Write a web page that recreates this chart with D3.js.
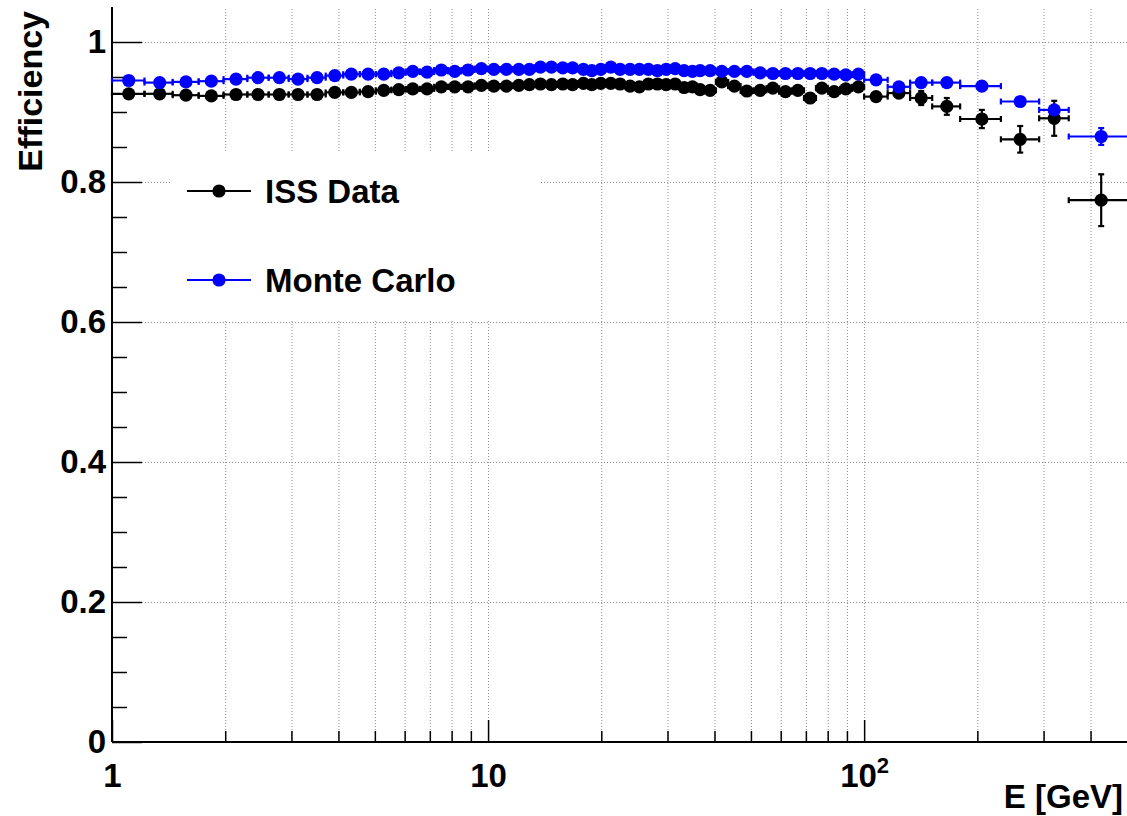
<!DOCTYPE html>
<html>
<head>
<meta charset="utf-8">
<script src="https://cdn.jsdelivr.net/npm/d3@7"></script>
<style>
  body { margin: 0; background: #fff; }
  svg { display: block; font-family: "Liberation Sans", Arial, Helvetica, sans-serif; font-weight: bold; }
</style>
</head>
<body>
<svg id="chart" width="1127" height="816"></svg>
<script>
// Bin centres (GeV)
const energy = [1.108, 1.339, 1.573, 1.837, 2.137, 2.445, 2.786, 3.124, 3.510, 3.912,
  4.329, 4.797, 5.280, 5.788, 6.305, 6.883, 7.511, 8.155, 8.847, 9.598,
  10.36, 11.19, 12.07, 12.88, 13.78, 14.74, 15.80, 16.78, 17.93, 18.87,
  19.94, 21.20, 22.44, 23.85, 25.26, 26.69, 28.20, 29.75, 31.44, 33.21,
  34.95, 36.63, 38.95, 41.83, 45.19, 48.76, 52.90, 57.17, 61.77, 66.64,
  71.85, 77.18, 83.22, 89.39, 96.57, 107.6, 123.7, 141.8, 165.9, 205.6,
  260.0, 320.2, 426.9];

// Bin edges (GeV), one more than the number of bins
const binEdges = [1.0, 1.22, 1.45, 1.70, 1.98, 2.29, 2.61, 2.95, 3.31, 3.70,
  4.12, 4.56, 5.03, 5.53, 6.04, 6.59, 7.19, 7.83, 8.49, 9.21,
  9.97, 10.77, 11.62, 12.47, 13.32, 14.25, 15.26, 16.28, 17.34, 18.39,
  19.40, 20.56, 21.81, 23.13, 24.54, 25.96, 27.43, 28.96, 30.58, 32.31,
  34.07, 35.78, 37.77, 40.36, 43.48, 46.94, 50.79, 54.99, 59.42, 64.16,
  69.20, 74.47, 80.14, 86.25, 92.91, 100.0, 115.5, 132.5, 151.7, 180.0,
  231.0, 292.0, 350.0, 520.0];

// ISS data efficiency and uncertainty
const issEff = [0.926, 0.926, 0.924, 0.923, 0.925, 0.925, 0.925, 0.925, 0.925, 0.928,
  0.928, 0.929, 0.931, 0.932, 0.933, 0.933, 0.936, 0.936, 0.936, 0.938,
  0.937, 0.937, 0.938, 0.939, 0.940, 0.939, 0.940, 0.939, 0.941, 0.939,
  0.941, 0.941, 0.940, 0.937, 0.936, 0.940, 0.940, 0.939, 0.940, 0.935,
  0.936, 0.932, 0.931, 0.943, 0.937, 0.930, 0.931, 0.934, 0.929, 0.931,
  0.920, 0.934, 0.929, 0.933, 0.936, 0.922, 0.927, 0.920, 0.908, 0.890,
  0.861, 0.891, 0.774];
const issErr = [0.002, 0.002, 0.002, 0.002, 0.002, 0.002, 0.002, 0.002, 0.002, 0.002,
  0.002, 0.002, 0.002, 0.002, 0.002, 0.002, 0.002, 0.002, 0.002, 0.002,
  0.002, 0.002, 0.002, 0.002, 0.002, 0.002, 0.002, 0.002, 0.002, 0.002,
  0.002, 0.002, 0.002, 0.002, 0.002, 0.002, 0.002, 0.002, 0.002, 0.002,
  0.002, 0.002, 0.002, 0.002, 0.002, 0.002, 0.002, 0.002, 0.003, 0.003,
  0.003, 0.003, 0.003, 0.003, 0.003, 0.004, 0.006, 0.010, 0.012, 0.013,
  0.019, 0.025, 0.037];

// Monte Carlo efficiency and uncertainty
const mcEff = [0.945, 0.942, 0.943, 0.944, 0.947, 0.949, 0.949, 0.947, 0.949, 0.952,
  0.954, 0.954, 0.954, 0.956, 0.958, 0.957, 0.960, 0.958, 0.960, 0.962,
  0.961, 0.961, 0.961, 0.961, 0.964, 0.964, 0.963, 0.963, 0.961, 0.959,
  0.961, 0.964, 0.961, 0.961, 0.961, 0.961, 0.959, 0.961, 0.962, 0.959,
  0.958, 0.959, 0.959, 0.958, 0.958, 0.958, 0.956, 0.955, 0.955, 0.955,
  0.955, 0.955, 0.954, 0.953, 0.954, 0.946, 0.936, 0.942, 0.942, 0.937,
  0.915, 0.903, 0.865];
const mcErr = [0.001, 0.001, 0.001, 0.001, 0.001, 0.001, 0.001, 0.001, 0.001, 0.001,
  0.001, 0.001, 0.001, 0.001, 0.001, 0.001, 0.001, 0.001, 0.001, 0.001,
  0.001, 0.001, 0.001, 0.001, 0.001, 0.001, 0.001, 0.001, 0.001, 0.001,
  0.001, 0.001, 0.001, 0.001, 0.001, 0.001, 0.001, 0.001, 0.001, 0.001,
  0.001, 0.001, 0.001, 0.001, 0.001, 0.001, 0.001, 0.001, 0.001, 0.001,
  0.001, 0.001, 0.001, 0.001, 0.001, 0.002, 0.002, 0.003, 0.003, 0.004,
  0.005, 0.006, 0.012];

// Axis ticks and labels
const xMajorTicks = [1, 10, 100];
const xMajorLabels = ["1", "10", "10^2"];
const xMinorTicks = [2, 3, 4, 5, 6, 7, 8, 9, 20, 30, 40, 50, 60, 70, 80, 90, 200, 300, 400];
const yMajorTicks = [0, 0.2, 0.4, 0.6, 0.8, 1.0];
const yMajorLabels = ["0", "0.2", "0.4", "0.6", "0.8", "1"];
const yMinorTicks = [0.05, 0.1, 0.15, 0.25, 0.3, 0.35, 0.45, 0.5, 0.55, 0.65, 0.7, 0.75, 0.85, 0.9, 0.95];

const seriesNames = ["ISS Data", "Monte Carlo"];
const seriesColors = ["#000000", "#0000ff"];

const svg = d3.select("#chart");
const frameLeft = 112, frameRight = 1127, frameBottom = 742, frameTop = 7;
const markerR = 6.6;

const x = d3.scaleLog().domain([1, 500]).range([frameLeft, frameRight]);
const y = d3.scaleLinear().domain([0, 1.05]).range([frameBottom, frameTop]);

// Dotted grid
const gridStyle = g => {
  g.select(".domain").remove();
  g.selectAll(".tick line")
    .attr("stroke", "#8c8c8c")
    .attr("stroke-width", 1)
    .attr("stroke-dasharray", "1,2");
};
svg.append("g")
  .attr("transform", `translate(0,${frameBottom})`)
  .call(d3.axisBottom(x).tickValues(xMajorTicks.concat(xMinorTicks))
    .tickSize(-(frameBottom - frameTop)).tickSizeOuter(0).tickFormat(""))
  .call(gridStyle);
svg.append("g")
  .attr("transform", `translate(${frameLeft},0)`)
  .call(d3.axisLeft(y).tickValues(yMajorTicks)
    .tickSize(-(frameRight - frameLeft)).tickSizeOuter(0).tickFormat(""))
  .call(gridStyle);

// Legend background
svg.append("rect")
  .attr("x", 172).attr("y", 153).attr("width", 368).attr("height", 167)
  .attr("fill", "#fff");

// Axes with inward ticks
const tickStyle = g => {
  g.select(".domain").remove();
  g.selectAll(".tick line").attr("stroke", "#000").attr("stroke-width", 1.5);
  g.selectAll(".tick text")
    .attr("fill", "#000")
    .style("font-size", "33px")
    .style("font-weight", "bold");
};

svg.append("g")
  .attr("transform", `translate(0,${frameBottom})`)
  .call(d3.axisBottom(x).tickValues(xMinorTicks).tickSize(-11).tickSizeOuter(0).tickFormat(""))
  .call(tickStyle);

const xAxisMajor = svg.append("g")
  .attr("transform", `translate(0,${frameBottom})`)
  .call(d3.axisBottom(x).tickValues(xMajorTicks).tickSize(-22).tickSizeOuter(0)
    .tickPadding(22).tickFormat((d, i) => xMajorLabels[i]))
  .call(tickStyle);

// Superscript exponent on the 10^2 label
xAxisMajor.selectAll(".tick text").each(function (d, i) {
  const lab = xMajorLabels[i];
  if (lab.includes("^")) {
    const [base, exp] = lab.split("^");
    const t = d3.select(this).text(base);
    t.append("tspan").attr("dy", "-14px").style("font-size", "22px").text(exp);
  }
});

svg.append("g")
  .attr("transform", `translate(${frameLeft},0)`)
  .call(d3.axisLeft(y).tickValues(yMinorTicks).tickSize(-15).tickSizeOuter(0).tickFormat(""))
  .call(tickStyle);
svg.append("g")
  .attr("transform", `translate(${frameLeft},0)`)
  .call(d3.axisLeft(y).tickValues(yMajorTicks).tickSize(-30).tickSizeOuter(0)
    .tickPadding(6).tickFormat((d, i) => yMajorLabels[i]))
  .call(tickStyle);

// Axis lines
svg.append("line").attr("x1", frameLeft).attr("x2", frameRight).attr("y1", frameBottom).attr("y2", frameBottom)
  .attr("stroke", "#000").attr("stroke-width", 2);
svg.append("line").attr("x1", frameLeft).attr("x2", frameLeft).attr("y1", frameTop).attr("y2", frameBottom)
  .attr("stroke", "#000").attr("stroke-width", 2);

// Axis titles
svg.append("text")
  .attr("transform", "rotate(-90)")
  .attr("x", -11).attr("y", 42)
  .attr("text-anchor", "end")
  .style("font-size", "34px")
  .text("Efficiency");
svg.append("text")
  .attr("x", 1123).attr("y", 808)
  .attr("text-anchor", "end")
  .style("font-size", "33px")
  .text("E [GeV]");

// Data series with error bars
const cap = 3;
function drawSeries(vals, errs, color) {
  const pts = energy.map((e, i) => ({
    e, lo: binEdges[i], hi: binEdges[i + 1], v: vals[i], err: errs[i]
  }));
  const g = svg.append("g").attr("stroke", color).attr("fill", color).attr("stroke-width", 2.2);
  const p = g.selectAll("g.pt").data(pts).join("g").attr("class", "pt");
  p.append("line")
    .attr("x1", d => x(d.lo)).attr("x2", d => x(d.hi))
    .attr("y1", d => y(d.v)).attr("y2", d => y(d.v));
  p.append("line")
    .attr("x1", d => x(d.lo)).attr("x2", d => x(d.lo))
    .attr("y1", d => y(d.v) - cap).attr("y2", d => y(d.v) + cap);
  p.append("line")
    .attr("x1", d => x(d.hi)).attr("x2", d => x(d.hi))
    .attr("y1", d => y(d.v) - cap).attr("y2", d => y(d.v) + cap);
  p.append("line")
    .attr("x1", d => x(d.e)).attr("x2", d => x(d.e))
    .attr("y1", d => y(d.v - d.err)).attr("y2", d => y(d.v + d.err));
  p.append("line")
    .attr("x1", d => x(d.e) - cap).attr("x2", d => x(d.e) + cap)
    .attr("y1", d => y(d.v - d.err)).attr("y2", d => y(d.v - d.err));
  p.append("line")
    .attr("x1", d => x(d.e) - cap).attr("x2", d => x(d.e) + cap)
    .attr("y1", d => y(d.v + d.err)).attr("y2", d => y(d.v + d.err));
  p.append("circle")
    .attr("cx", d => x(d.e)).attr("cy", d => y(d.v))
    .attr("r", markerR).attr("stroke", "none");
}
drawSeries(issEff, issErr, seriesColors[0]);
drawSeries(mcEff, mcErr, seriesColors[1]);

// Legend entries
const legendRows = [191, 280];
const lg = svg.append("g");
seriesNames.forEach((name, i) => {
  const row = lg.append("g");
  row.append("line")
    .attr("x1", 187).attr("x2", 251).attr("y1", legendRows[i]).attr("y2", legendRows[i])
    .attr("stroke", seriesColors[i]).attr("stroke-width", 2.2);
  row.append("circle")
    .attr("cx", 219).attr("cy", legendRows[i]).attr("r", markerR)
    .attr("fill", seriesColors[i]);
  row.append("text")
    .attr("x", 265).attr("y", legendRows[i] + 12)
    .style("font-size", "33px")
    .attr("fill", "#000")
    .text(name);
});
</script>
</body>
</html>
